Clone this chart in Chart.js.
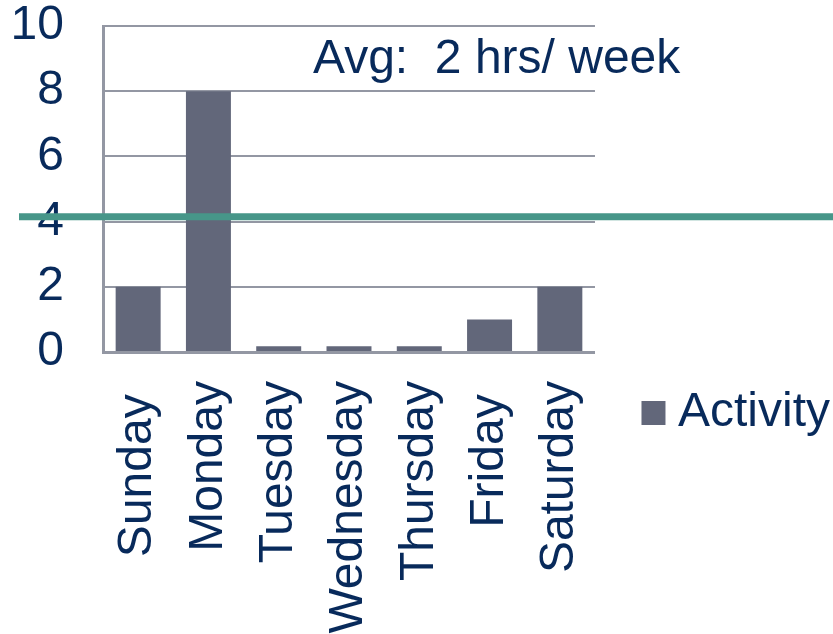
<!DOCTYPE html>
<html>
<head>
<meta charset="utf-8">
<script src="https://cdn.jsdelivr.net/npm/chart.js@4/dist/chart.umd.min.js"></script>
<style>
  html, body { margin: 0; padding: 0; background: #ffffff; }
  #wrap { width: 833px; height: 634px; }
</style>
</head>
<body>
<div id="wrap"><canvas id="c" width="833" height="634"></canvas></div>
<script>
// ---- data ----
const categories = ["Sunday ", "Monday", "Tuesday", "Wednesday", "Thursday", "Friday ", "Saturday"];
const activityValues = [2, 8, 0.18, 0.18, 0.18, 1, 2];
const seriesName = "Activity";
const yTicks = [0, 2, 4, 6, 8, 10];
const averageLineValue = [4.15];
const annotationText = ["Avg:  2 hrs/ week"];

const NAVY = "#082A5B";
const BAR = "#62677A";
const GRID = "#9397A3";
const GREEN = "#479689";
const FONT = "'Liberation Sans', Arial, sans-serif";

const overlayPlugin = {
  id: "overlay",
  afterDraw(chart) {
    const ctx = chart.ctx;
    const y = chart.scales.y;
    const area = chart.chartArea;
    // annotation text
    ctx.save();
    ctx.font = "48px " + FONT;
    ctx.fillStyle = NAVY;
    ctx.textBaseline = "alphabetic";
    ctx.textAlign = "left";
    ctx.fillText(annotationText[0], area.left + 210, y.getPixelForValue(yTicks[yTicks.length - 1]) + 47);
    ctx.restore();
    // average line
    ctx.save();
    ctx.strokeStyle = GREEN;
    ctx.lineWidth = 7;
    const py = y.getPixelForValue(averageLineValue[0]);
    ctx.beginPath();
    ctx.moveTo(y.left + 8, py);
    ctx.lineTo(chart.width, py);
    ctx.stroke();
    ctx.restore();
  }
};

new Chart(document.getElementById("c"), {
  type: "bar",
  data: {
    labels: categories,
    datasets: [{
      label: seriesName,
      data: activityValues,
      backgroundColor: BAR,
      borderWidth: 0,
      categoryPercentage: 1.0,
      barPercentage: 0.64
    }]
  },
  options: {
    responsive: false,
    devicePixelRatio: 1,
    animation: false,
    layout: { padding: { top: 26, left: 11, right: -7, bottom: 0 } },
    plugins: {
      tooltip: { enabled: false },
      legend: {
        position: "right",
        align: "start",
        maxWidth: 300,
        title: { display: true, text: " ", font: { size: 10, lineHeight: 1 }, padding: { top: 295, bottom: 0 } },
        labels: {
          usePointStyle: true,
          pointStyle: "rect",
          boxWidth: 1,
          boxHeight: 24,
          padding: 58,
          color: NAVY,
          font: { family: FONT, size: 48 }
        }
      }
    },
    scales: {
      x: {
        grid: { display: true, drawOnChartArea: false, drawTicks: false },
        border: { display: true, color: GRID, width: 3 },
        afterFit(s) { s.height = 282; s.paddingLeft = 0; s.paddingRight = 0; },
        ticks: {
          autoSkip: false,
          minRotation: 90,
          maxRotation: 90,
          padding: 29,
          color: NAVY,
          font: { family: FONT, size: 48 }
        }
      },
      y: {
        min: yTicks[0],
        max: yTicks[yTicks.length - 1],
        afterBuildTicks(scale) { scale.ticks = yTicks.map(v => ({ value: v })); },
        afterFit(s) { s.width = 92; s.paddingTop = 0; s.paddingBottom = 0; },
        grid: { color: GRID, lineWidth: 2, drawTicks: false },
        border: { display: true, color: GRID, width: 3 },
        ticks: {
          padding: 39,
          color: NAVY,
          font: { family: FONT, size: 48, lineHeight: 1 }
        }
      }
    }
  },
  plugins: [overlayPlugin]
});
</script>
</body>
</html>
